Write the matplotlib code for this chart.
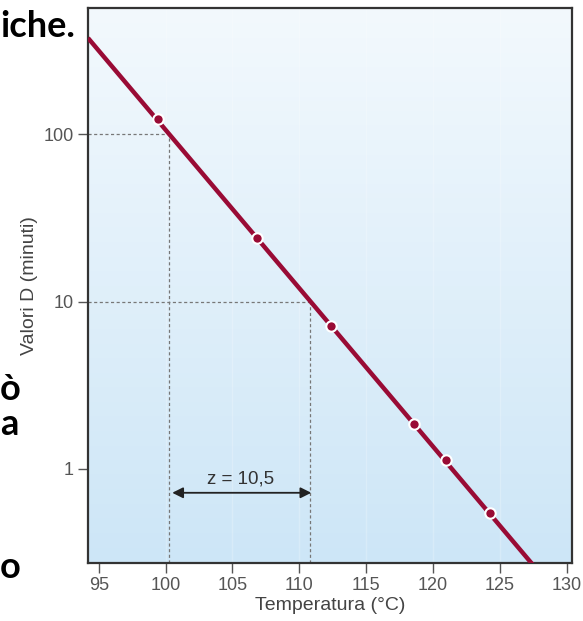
import numpy as np
import matplotlib.pyplot as plt
from matplotlib.colors import LinearSegmentedColormap

# thermal death curve: D value vs temperature
line_temp = [94.2, 127.6]
line_D = [376, 0.26]
point_temp = [99.4, 106.85, 112.4, 118.6, 120.95, 124.25]
point_D = [123, 24.1, 7.1, 1.86, 1.13, 0.546]

guide_D = [100, 10]
guide_temp = [100.27, 110.83]
z_label = 'z = 10,5'

xticks = [95, 100, 105, 110, 115, 120, 125, 130]
yticks = [1, 10, 100]
ytick_labels = ['1', '10', '100']

red = '#990b35'
tick_col = '#555555'

fig = plt.figure(figsize=(5.83, 6.21), dpi=100)
ax = fig.add_axes([88 / 583, 58 / 621, 484 / 583, 555 / 621])
ax.set_yscale('log')

# background gradient, light at top, blue at bottom
cmap = LinearSegmentedColormap.from_list('bg', ['#cde6f7', '#f3f9fd'])
grad = np.linspace(0, 1, 256).reshape(-1, 1)
ax.imshow(grad, extent=[0, 1, 0, 1], transform=ax.transAxes, aspect='auto',
          cmap=cmap, origin='lower', zorder=0)

ax.set_xlim(94.2, 130.4)
ax.set_ylim(0.274, 568)

# faint vertical grid
for t in xticks[1:-1]:
    ax.axvline(t, color='white', lw=1, alpha=0.22, zorder=1)

# dotted guides
for t, d in zip(guide_temp, guide_D):
    ax.plot([94.2, t], [d, d], color='#777777', lw=0.9, ls=(0, (2.5, 2)), zorder=2)
    ax.plot([t, t], [0.274, d], color='#777777', lw=0.9, ls=(0, (2.5, 2)), zorder=2)

ax.plot(line_temp, line_D, color=red, lw=3.2, solid_capstyle='butt', zorder=3)
ax.plot(point_temp, point_D, 'o', color=red, ms=7.5, mec='white', mew=1.5, zorder=4)

# z arrow
ax.annotate('', xy=(100.5, 0.72), xytext=(110.9, 0.72),
            arrowprops=dict(arrowstyle='<|-|>', color='#222222', lw=1.3,
                            mutation_scale=16, shrinkA=0, shrinkB=0), zorder=5)
ax.text(105.6, 0.87, z_label, ha='center', va='center', fontsize=13.5,
        color='#333333', family='Liberation Sans')

ax.set_xticks(xticks)
ax.set_xticklabels([str(t) for t in xticks])
ax.set_yticks(yticks)
ax.set_yticklabels(ytick_labels)
ax.minorticks_off()
ax.tick_params(direction='out', length=7, width=1, color=tick_col,
               labelcolor=tick_col, labelsize=13, pad=3)
for lab in ax.get_xticklabels() + ax.get_yticklabels():
    lab.set_family('Liberation Sans')

for s in ax.spines.values():
    s.set_color('#333333')
    s.set_linewidth(1.6)

ax.set_xlabel('Temperatura (°C)', fontsize=14, color='#444444',
              family='Liberation Sans', labelpad=2)
ax.set_ylabel('Valori D (minuti)', fontsize=14, color='#444444',
              family='Liberation Sans', labelpad=4)

# cut-off slide text on the left
for txt, base in [('iche.', 37), ('ò', 400), ('a', 435), ('o', 578)]:
    fig.text(0.0, 1 - base / 621, txt, fontsize=26, fontweight='bold',
             family='Lato', va='baseline', ha='left')

fig.savefig('out.png', dpi=100)
